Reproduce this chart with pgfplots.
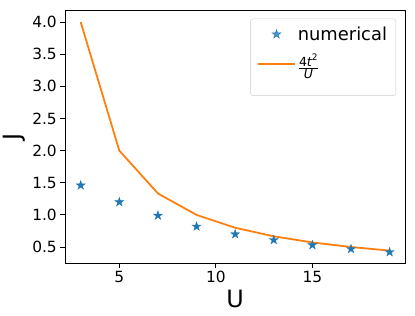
\documentclass[border=0pt]{standalone}
\usepackage{pgfplots}
\pgfplotsset{compat=1.18}
\usepackage{amsmath}
\usepackage{fontspec}
\setmainfont{DejaVu Sans}
\definecolor{tabblue}{HTML}{1F77B4}
\definecolor{taborange}{HTML}{FF7F0E}
\pgfdeclareplotmark{fstar}{%
 \pgfpathmoveto{\pgfpointpolar{90}{\pgfplotmarksize}}%
 \pgfpathlineto{\pgfpointpolar{126}{0.382\pgfplotmarksize}}%
 \pgfpathlineto{\pgfpointpolar{162}{\pgfplotmarksize}}%
 \pgfpathlineto{\pgfpointpolar{198}{0.382\pgfplotmarksize}}%
 \pgfpathlineto{\pgfpointpolar{234}{\pgfplotmarksize}}%
 \pgfpathlineto{\pgfpointpolar{270}{0.382\pgfplotmarksize}}%
 \pgfpathlineto{\pgfpointpolar{306}{\pgfplotmarksize}}%
 \pgfpathlineto{\pgfpointpolar{342}{0.382\pgfplotmarksize}}%
 \pgfpathlineto{\pgfpointpolar{18}{\pgfplotmarksize}}%
 \pgfpathlineto{\pgfpointpolar{54}{0.382\pgfplotmarksize}}%
 \pgfpathclose
 \pgfusepathqfillstroke
}
\pgfplotsset{
 starlegend/.style={legend image code/.code={\draw[##1,mark repeat=2,mark phase=2] plot coordinates {(0pt,0pt)(18.5pt,0pt)(37pt,0pt)};}},
 linelegend/.style={legend image code/.code={\draw[##1] (0pt,0pt) -- (37pt,0pt); \path (0pt,-25pt);}},
}
\begin{document}
\begin{tikzpicture}
\begin{axis}[
 name=ax,
 width=342pt, height=254pt, scale only axis,
 xmin=2.2, xmax=19.8, ymin=0.2515, ymax=4.1785,
 xtick={5,10,15}, ytick={0.5,1,1.5,2,2.5,3,3.5,4},
 yticklabel style={/pgf/number format/fixed, /pgf/number format/fixed zerofill, /pgf/number format/precision=1},
 /pgf/number format/assume math mode=true,
 tick align=outside, tick pos=left, major tick length=5pt,
 tick style={black, line width=0.8pt},
 axis line style={line width=0.8pt},
 ticklabel style={font=\fontsize{15.5}{15.5}\selectfont},
 xlabel={U}, ylabel={J},
 label style={font=\fontsize{24}{24}\selectfont},
 legend style={at={(axis description cs:0.9737,0.9685)}, anchor=north east,
   draw=black!20, rounded corners=3pt, fill=white, fill opacity=0.8, text opacity=1,
   font=\fontsize{18}{18}\selectfont, cells={anchor=west}, row sep=8pt, inner xsep=7pt, inner ysep=6pt},
]
\addplot[only marks, mark=fstar, mark size=4.7pt, mark options={fill=tabblue, draw=tabblue, line width=0.4pt}, starlegend]
 coordinates {(3,1.46) (5,1.20) (7,0.99) (9,0.82) (11,0.70) (13,0.61) (15,0.53) (17,0.47) (19,0.42)};
\addlegendentry{numerical}
\addplot[taborange, line width=1.8pt, no marks, linelegend]
 coordinates {(3,4.0) (5,2.0) (7,1.3333) (9,1.0) (11,0.8) (13,0.6667) (15,0.5714) (17,0.5) (19,0.4444)};
\addlegendentry{$\frac{\text{4}\textit{t}^{\text{2}}}{\textit{U}}$}
\end{axis}
\path ([xshift=-63pt,yshift=-53pt]ax.south west) rectangle ([xshift=10pt,yshift=10.7pt]ax.north east);
\end{tikzpicture}
\end{document}
